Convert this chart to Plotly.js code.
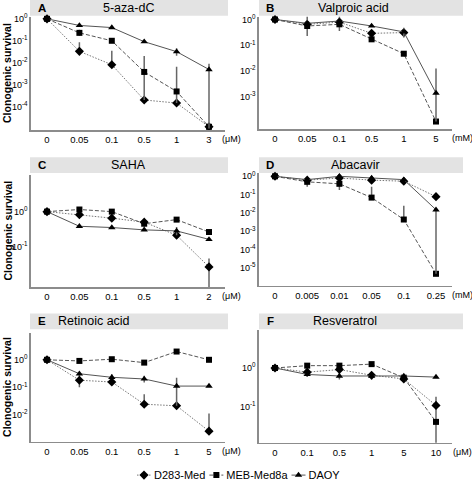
<!DOCTYPE html>
<html>
<head>
<meta charset="utf-8">
<script src="https://cdn.plot.ly/plotly-3.0.1.min.js"></script>
<style>
  html, body { margin: 0; padding: 0; background: #fff; }
  #chart { width: 472px; height: 490px; }
</style>
</head>
<body>
<div id="chart"></div>
<script>
// ---------------- DATA ----------------
const cellLines = ['D283-Med', 'MEB-Med8a', 'DAOY'];
const panelLetters = ['A', 'B', 'C', 'D', 'E', 'F'];
const drugNames = ['5-aza-dC', 'Valproic acid', 'SAHA', 'Abacavir', 'Retinoic acid', 'Resveratrol'];
const doseUnits = ['(μM)', '(mM)', '(μM)', '(mM)', '(μM)', '(μM)'];
const yAxisTitle = 'Clonogenic survival';

// A: 5-aza-dC
const catsA = ['0', '0.05', '0.1', '0.5', '1', '3'];
const d283A = [1, 0.033, 0.0081, 0.0002, 0.000145, 0.000012];
const mebA = [1, 0.23, 0.1, 0.0038, 0.00049, 0.000012];
const daoyA = [1, 0.5, 0.4, 0.091, 0.032, 0.0049];
const d283A_hi = [null, 0.085, 0.035, null, null, null];
const d283A_lo = [null, null, null, null, null, null];
const mebA_hi = [null, 0.32, 0.13, 0.02, 0.0065, null];
const mebA_lo = [null, 0.17, null, 0.0002, 0.000145, null];
const daoyA_hi = [null, 0.56, 0.45, null, 0.046, 0.009];
const daoyA_lo = [null, null, null, null, 0.021, 0.00001];

// B: Valproic acid
const catsB = ['0', '0.05', '0.1', '0.5', '1', '5'];
const d283B = [1, 0.65, 0.79, 0.29, 0.31, null];
const mebB = [1, 0.56, 0.65, 0.17, 0.047, 0.00011];
const daoyB = [1, 0.71, 0.87, 0.56, 0.33, 0.0014];
const d283B_hi = [null, null, null, 0.36, null, null];
const d283B_lo = [null, null, null, null, null, null];
const mebB_hi = [null, 1.7, 1.4, 0.21, 0.06, null];
const mebB_lo = [null, 0.23, 0.36, null, null, null];
const daoyB_hi = [null, null, null, 0.65, 0.48, 0.0126];
const daoyB_lo = [null, null, null, null, 0.2, 0.00011];

// C: SAHA
const catsC = ['0', '0.05', '0.1', '0.5', '1', '2'];
const d283C = [1, 0.81, 0.65, 0.50, 0.21, 0.026];
const mebC = [1, 1.15, 1.0, 0.45, 0.59, 0.26];
const daoyC = [1, 0.38, 0.35, 0.30, 0.28, 0.16];
const d283C_hi = [null, 1.0, null, null, null, 0.045];
const d283C_lo = [null, 0.68, null, null, null, 0.005];
const mebC_hi = [null, null, null, null, null, null];
const mebC_lo = [null, null, null, null, null, null];
const daoyC_hi = [null, null, null, null, 0.36, null];
const daoyC_lo = [null, null, null, null, 0.21, null];

// D: Abacavir
const catsD = ['0', '0.005', '0.01', '0.05', '0.1', '0.25'];
const d283D = [1, 0.62, 0.81, 0.62, 0.54, 0.078];
const mebD = [1, 0.5, 0.39, 0.069, 0.0044, 0.0000048];
const daoyD = [1, 0.66, 1.0, 0.81, 0.66, 0.015];
const d283D_hi = [null, null, null, 1.0, null, null];
const d283D_lo = [null, null, null, 0.45, null, null];
const mebD_hi = [null, null, null, 0.27, 0.025, null];
const mebD_lo = [null, 0.27, 0.18, null, null, null];
const daoyD_hi = [null, null, null, null, null, null];
const daoyD_lo = [null, null, null, null, null, 0.0000048];

// E: Retinoic acid
const catsE = ['0', '0.05', '0.1', '0.5', '1', '5'];
const d283E = [1, 0.18, 0.155, 0.024, 0.021, 0.0025];
const mebE = [1, 0.91, 1.05, 0.79, 2.0, 1.0];
const daoyE = [1, 0.31, 0.23, 0.20, 0.11, 0.11];
const d283E_hi = [null, 0.3, 0.3, 0.055, null, 0.011];
const d283E_lo = [null, 0.1, 0.12, null, null, null];
const mebE_hi = [null, null, null, null, null, null];
const mebE_lo = [null, null, null, null, null, null];
const daoyE_hi = [null, null, null, 0.26, 0.22, null];
const daoyE_lo = [null, null, null, 0.15, 0.021, null];

// F: Resveratrol
const catsF = ['0', '0.1', '0.5', '1', '5', '10'];
const d283F = [1, 0.78, 0.91, 0.65, 0.52, 0.107];
const mebF = [1, 1.15, 1.15, 1.26, 0.56, 0.04];
const daoyF = [1, 0.68, 0.62, 0.62, 0.62, 0.58];
const d283F_hi = [null, 0.9, 1.1, null, null, 0.18];
const d283F_lo = [null, 0.62, 0.55, 0.5, null, 0.01];
const mebF_hi = [null, null, null, null, null, null];
const mebF_lo = [null, null, null, null, null, null];
const daoyF_hi = [null, null, null, null, null, null];
const daoyF_lo = [null, 0.58, 0.5, null, null, null];

// y tick values per panel (decades shown)
const yTicksA = [1, 0.1, 0.01, 0.001, 0.0001];
const yTicksB = [1, 0.1, 0.01, 0.001];
const yTicksC = [1, 0.1];
const yTicksD = [1, 0.1, 0.01, 0.001, 0.0001, 0.00001];
const yTicksE = [1, 0.1, 0.01];
const yTicksF = [1, 0.1];

// ---------------- LAYOUT GEOMETRY (pixels) ----------------
const W = 472, H = 490;
const panels = [
  {cats: catsA, s: [d283A, mebA, daoyA], hi: [d283A_hi, mebA_hi, daoyA_hi], lo: [d283A_lo, mebA_lo, daoyA_lo], ticks: yTicksA,
   box: {x0: 30.8, x1: 225.2, y0: 17, y1: 133}, yr: [-5.08, 0.10], bar: {x0: 30, x1: 228, y0: -1, y1: 16},
   letterX: 42, titleX: 128, unitX: 220},
  {cats: catsB, s: [d283B, mebB, daoyB], hi: [d283B_hi, mebB_hi, daoyB_hi], lo: [d283B_lo, mebB_lo, daoyB_lo], ticks: yTicksB,
   box: {x0: 258.9, x1: 452.1, y0: 17, y1: 132}, yr: [-4.26, 0.11], bar: {x0: 259, x1: 463, y0: -1, y1: 16},
   letterX: 270, titleX: 353, unitX: 450},
  {cats: catsC, s: [d283C, mebC, daoyC], hi: [d283C_hi, mebC_hi, daoyC_hi], lo: [d283C_lo, mebC_lo, daoyC_lo], ticks: yTicksC,
   box: {x0: 30.8, x1: 225.2, y0: 178.3, y1: 293.3}, yr: [-2.17, 1.06], bar: {x0: 30, x1: 228, y0: 160.5, y1: 176.5},
   letterX: 42, titleX: 128, unitX: 220},
  {cats: catsD, s: [d283D, mebD, daoyD], hi: [d283D_hi, mebD_hi, daoyD_hi], lo: [d283D_lo, mebD_lo, daoyD_lo], ticks: yTicksD,
   box: {x0: 258.9, x1: 452.1, y0: 177, y1: 291.7}, yr: [-5.97, 0.16], bar: {x0: 259, x1: 463, y0: 160.5, y1: 176.5},
   letterX: 270, titleX: 355, unitX: 450},
  {cats: catsE, s: [d283E, mebE, daoyE], hi: [d283E_hi, mebE_hi, daoyE_hi], lo: [d283E_lo, mebE_lo, daoyE_lo], ticks: yTicksE,
   box: {x0: 30.8, x1: 225.2, y0: 340, y1: 451}, yr: [-2.99, 0.975], bar: {x0: 30, x1: 228, y0: 320, y1: 336},
   letterX: 42, titleX: 94, unitX: 220},
  {cats: catsF, s: [d283F, mebF, daoyF], hi: [d283F_hi, mebF_hi, daoyF_hi], lo: [d283F_lo, mebF_lo, daoyF_lo], ticks: yTicksF,
   box: {x0: 258.9, x1: 452.1, y0: 336.7, y1: 452}, yr: [-1.94, 0.99], bar: {x0: 259, x1: 463, y0: 320, y1: 336},
   letterX: 270, titleX: 345, unitX: 451}
];

const px = x => x / W;
const py = y => 1 - y / H;

const styles = [
  {symbol: 'diamond', size: 7, dash: '1.5px,1.5px', lc: '#777'},
  {symbol: 'square', size: 6, dash: '4px,2px', lc: '#555'},
  {symbol: 'triangle-up', size: 6.5, dash: 'solid', lc: '#555'}
];

const FONT = 'Arial, "Liberation Sans", sans-serif';
const traces = [];
const layout = {
  width: W, height: H,
  margin: {l: 0, r: 0, t: 0, b: 0},
  paper_bgcolor: '#fff', plot_bgcolor: 'rgba(0,0,0,0)',
  font: {family: FONT, color: '#000', size: 9},
  showlegend: true,
  legend: {orientation: 'h', x: px(243), xanchor: 'center', y: py(485), yanchor: 'middle',
           font: {family: FONT, size: 11, color: '#000'}, bgcolor: 'rgba(0,0,0,0)', tracegroupgap: 0},
  shapes: [], annotations: []
};

function supLabel(v) {
  const p = Math.round(Math.log10(v));
  return '10<sup>' + p + '</sup>';
}

panels.forEach((p, i) => {
  const n = i + 1;
  const xa = 'xaxis' + (n > 1 ? n : '');
  const ya = 'yaxis' + (n > 1 ? n : '');
  const xr = 'x' + (n > 1 ? n : '');
  const yr = 'y' + (n > 1 ? n : '');
  layout[xa] = {
    domain: [px(p.box.x0), px(p.box.x1)], anchor: yr, type: 'category',
    range: [-0.5, p.cats.length - 0.5], showgrid: false, zeroline: false,
    showline: true, linecolor: '#8c8c8c', linewidth: 1.5, ticks: '',
    tickfont: {family: FONT, size: 9.5, color: '#000'}, fixedrange: true
  };
  layout[ya] = {
    domain: [py(p.box.y1), py(p.box.y0)], anchor: xr, type: 'log',
    range: p.yr, showgrid: false, zeroline: false,
    showline: true, linecolor: '#8c8c8c', linewidth: 1.5, ticks: '',
    tickmode: 'array', tickvals: p.ticks, ticktext: p.ticks.map(supLabel),
    tickfont: {family: FONT, size: 9, color: '#000'}, fixedrange: true
  };
  p.s.forEach((vals, k) => {
    const st = styles[k];
    const hi = p.hi[k], lo = p.lo[k];
    traces.push({
      type: 'scatter', mode: 'lines+markers', name: cellLines[k],
      x: p.cats, y: vals, xaxis: xr, yaxis: yr,
      showlegend: i === 0, legendgroup: cellLines[k], cliponaxis: false,
      connectgaps: false,
      line: {color: st.lc, width: 1, dash: st.dash},
      marker: {symbol: st.symbol, size: st.size, color: '#000', line: {width: 0}},
      error_y: {
        type: 'data', symmetric: false, visible: true,
        array: vals.map((v, j) => (v == null || hi[j] == null) ? 0 : hi[j] - v),
        arrayminus: vals.map((v, j) => (v == null || lo[j] == null) ? 0 : v - lo[j]),
        color: '#666', thickness: 1.5, width: 0
      }
    });
  });
  // title bar
  layout.shapes.push({type: 'rect', xref: 'paper', yref: 'paper', layer: 'below',
    x0: px(p.bar.x0), x1: px(p.bar.x1), y0: py(p.bar.y1), y1: py(p.bar.y0),
    fillcolor: '#e3e3e3', line: {width: 0}});
  const barMid = py((Math.max(p.bar.y0, 0) + p.bar.y1) / 2);
  layout.annotations.push({xref: 'paper', yref: 'paper', x: px(p.letterX), y: barMid, xanchor: 'center', yanchor: 'middle',
    text: '<b>' + panelLetters[i] + '</b>', showarrow: false, font: {family: FONT, size: 11.5, color: '#000'}});
  layout.annotations.push({xref: 'paper', yref: 'paper', x: px(p.titleX), y: barMid, xanchor: 'center', yanchor: 'middle',
    text: drugNames[i], showarrow: false, font: {family: FONT, size: 12.5, color: '#000'}});
  layout.annotations.push({xref: 'paper', yref: 'paper', x: px(p.unitX), y: py(p.box.y1 + 9), xanchor: 'left', yanchor: 'middle',
    text: doseUnits[i], showarrow: false, font: {family: FONT, size: 9, color: '#000'}});
  if (i % 2 === 0) {
    layout.annotations.push({xref: 'paper', yref: 'paper', x: px(7.5), y: py((p.box.y0 + p.box.y1) / 2), xanchor: 'center', yanchor: 'middle',
      text: '<b>' + yAxisTitle + '</b>', textangle: -90, showarrow: false, font: {family: FONT, size: 10.5, color: '#000'}});
  }
});

const gd = document.getElementById('chart');
Plotly.newPlot(gd, traces, layout, {staticPlot: true, displayModeBar: false}).then(() => {
  // compact legend glyphs (short line, marker centred, text close) like the original figure
  try {
    const groups = gd.querySelectorAll('.legend .traces');
    let cur = 137;
    groups.forEach(g => {
      const m = /translate\(\s*([-\d.e]+)[ ,]+([-\d.e]+)\s*\)/.exec(g.getAttribute('transform'));
      const tx = +m[1], ty = +m[2];
      const ori = g.getCTM().e - tx;
      g.querySelectorAll('.legendlines path, path.legendlines').forEach(l => l.setAttribute('d', 'M0,0h14'));
      g.querySelectorAll('.legendsymbols path.scatterpts').forEach(s => s.setAttribute('transform', 'translate(7,0)'));
      const t = g.querySelector('text.legendtext');
      t.setAttribute('x', 17);
      t.querySelectorAll('tspan').forEach(s => { if (s.hasAttribute('x')) s.setAttribute('x', 17); });
      const w = t.getComputedTextLength();
      g.setAttribute('transform', 'translate(' + (cur - ori) + ',' + ty + ')');
      cur += 17 + w + 4;
    });
  } catch (e) { /* keep default legend */ }
});
</script>
</body>
</html>
